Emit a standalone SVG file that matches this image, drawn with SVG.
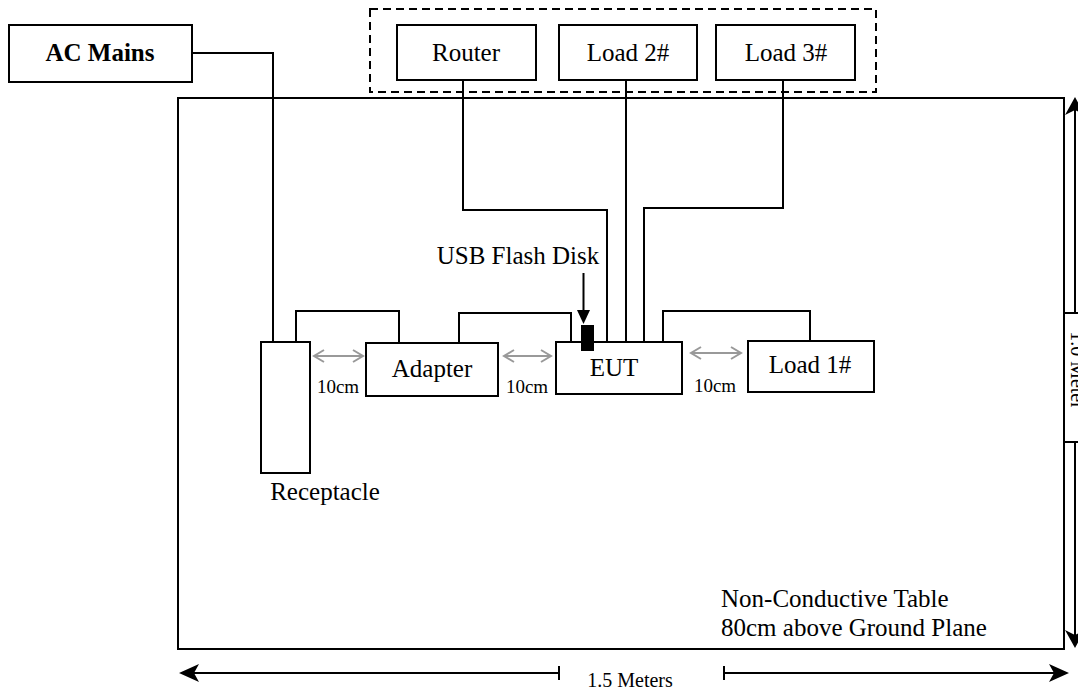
<svg xmlns="http://www.w3.org/2000/svg" width="1078" height="692" viewBox="0 0 1078 692">
<style>
.box{fill:#fff;stroke:#000;stroke-width:2}
.ln{fill:none;stroke:#000;stroke-width:2}
.gray{fill:none;stroke:#999;stroke-width:2}
.t{font-family:"Liberation Serif","Times New Roman",serif;fill:#000;text-anchor:middle}
.l{font-size:25px}
.s{font-size:19px}
.head{fill:#000;stroke:none}
</style>
<rect width="1078" height="692" fill="#fff"/>
<g id="table">
<rect class="box" x="178" y="98" width="886" height="551"/>
<text class="t l" x="721" y="607" style="text-anchor:start">Non-Conductive Table</text>
<text class="t l" x="721" y="636" style="text-anchor:start">80cm above Ground Plane</text>
</g>
<g id="group-dashed">
<rect x="370" y="9" width="506" height="83" fill="none" stroke="#000" stroke-width="2" stroke-dasharray="8,5"/>
</g>
<g id="ac-mains">
<rect class="box" x="9" y="25" width="183" height="57"/>
<text class="t l" x="100" y="61" font-weight="bold">AC Mains</text>
</g>
<g id="router">
<rect class="box" x="397" y="25" width="139" height="55"/>
<text class="t l" x="466" y="61">Router</text>
</g>
<g id="load2">
<rect class="box" x="559" y="25" width="138" height="55"/>
<text class="t l" x="628" y="61">Load 2#</text>
</g>
<g id="load3">
<rect class="box" x="716" y="25" width="139" height="55"/>
<text class="t l" x="786" y="61">Load 3#</text>
</g>
<g id="connectors">
<polyline class="ln" points="192,53 273,53 273,342"/>
<polyline class="ln" points="463,80 463,210 607,210 607,342"/>
<line class="ln" x1="626" y1="80" x2="626" y2="342"/>
<polyline class="ln" points="783,80 783,208 644,208 644,342"/>
<polyline class="ln" points="296,342 296,311 399,311 399,343"/>
<polyline class="ln" points="459,343 459,313 571,313 571,342"/>
<polyline class="ln" points="663,342 663,311 810,311 810,341"/>
<line class="ln" x1="583.5" y1="273" x2="583.5" y2="312"/>
<polygon class="head" points="577,310 590,310 583.5,324"/>
<g id="gap-arrows">
<line class="gray" x1="314" y1="356" x2="363" y2="356"/>
<polyline class="gray" points="324,350 314,356 324,362"/>
<polyline class="gray" points="353,350 363,356 353,362"/>
<line class="gray" x1="504" y1="356" x2="551" y2="356"/>
<polyline class="gray" points="514,350 504,356 514,362"/>
<polyline class="gray" points="541,350 551,356 541,362"/>
<line class="gray" x1="691" y1="353" x2="741" y2="353"/>
<polyline class="gray" points="701,347 691,353 701,359"/>
<polyline class="gray" points="731,347 741,353 731,359"/>
</g>
<g id="dimensions">
<line class="ln" x1="1075" y1="108" x2="1075" y2="313"/>
<path class="head" d="M1075,97 L1085,115 L1075,110 L1065,115 Z"/>
<line class="ln" x1="1075" y1="442" x2="1075" y2="636"/>
<path class="head" d="M1075,648 L1065,630 L1075,635 L1085,630 Z"/>
<line class="ln" x1="190" y1="673" x2="559" y2="673"/>
<line class="ln" x1="559" y1="666" x2="559" y2="680"/>
<path class="head" d="M179,673 L199,664 L194,673 L199,682 Z"/>
<line class="ln" x1="724" y1="673" x2="1058" y2="673"/>
<line class="ln" x1="724" y1="666" x2="724" y2="680"/>
<path class="head" d="M1069,673 L1049,664 L1054,673 L1049,682 Z"/>
</g>
</g>
<g id="receptacle">
<rect class="box" x="261" y="342" width="49" height="131"/>
<text class="t l" x="325" y="500">Receptacle</text>
</g>
<g id="adapter">
<rect class="box" x="366" y="343" width="132" height="53"/>
<text class="t l" x="432" y="377">Adapter</text>
</g>
<g id="eut">
<rect class="box" x="556" y="342" width="126" height="52"/>
<text class="t l" x="614" y="376">EUT</text>
</g>
<g id="usb">
<rect x="581" y="325" width="13" height="26" fill="#000"/>
<text class="t l" x="518" y="264">USB Flash Disk</text>
</g>
<g id="load1">
<rect class="box" x="748" y="341" width="126" height="51"/>
<text class="t l" x="810" y="373">Load 1#</text>
</g>
<g id="labels">
<text class="t s" x="338" y="393">10cm</text>
<text class="t s" x="527" y="393">10cm</text>
<text class="t s" x="715" y="392">10cm</text>
<text class="t" style="font-size:20px" x="630" y="687">1.5 Meters</text>
</g>
<g id="meter-label">
<rect x="1064" y="313" width="30" height="129" fill="#fff" stroke="#000" stroke-width="2"/>
<text class="t" style="font-size:20px" transform="translate(1071,370) rotate(90)">1.0 Meter</text>
</g>
</svg>
